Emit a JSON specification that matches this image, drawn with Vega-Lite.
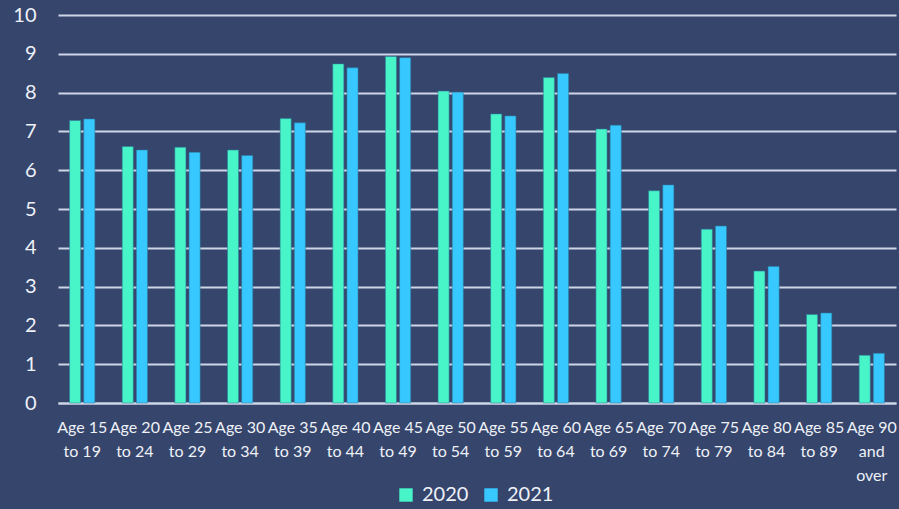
{
  "$schema": "https://vega.github.io/schema/vega-lite/v6.json",
  "width": 838,
  "height": 388,
  "autosize": "none",
  "padding": {"left": 58, "top": 15, "right": 3, "bottom": 106},
  "background": "#35456c",
  "config": {
    "view": {"stroke": null},
    "font": "Lato",
    "axis": {"labelColor": "#eef1f7", "labelFont": "Lato", "title": null}
  },
  "data": {
    "values": [
      {"age": "Age 15 to 19", "year": "2020", "value": 7.28},
      {"age": "Age 15 to 19", "year": "2021", "value": 7.32},
      {"age": "Age 20 to 24", "year": "2020", "value": 6.61},
      {"age": "Age 20 to 24", "year": "2021", "value": 6.52},
      {"age": "Age 25 to 29", "year": "2020", "value": 6.59},
      {"age": "Age 25 to 29", "year": "2021", "value": 6.46},
      {"age": "Age 30 to 34", "year": "2020", "value": 6.52},
      {"age": "Age 30 to 34", "year": "2021", "value": 6.38},
      {"age": "Age 35 to 39", "year": "2020", "value": 7.33},
      {"age": "Age 35 to 39", "year": "2021", "value": 7.22},
      {"age": "Age 40 to 44", "year": "2020", "value": 8.74},
      {"age": "Age 40 to 44", "year": "2021", "value": 8.64},
      {"age": "Age 45 to 49", "year": "2020", "value": 8.93},
      {"age": "Age 45 to 49", "year": "2021", "value": 8.9},
      {"age": "Age 50 to 54", "year": "2020", "value": 8.04},
      {"age": "Age 50 to 54", "year": "2021", "value": 8.01},
      {"age": "Age 55 to 59", "year": "2020", "value": 7.45},
      {"age": "Age 55 to 59", "year": "2021", "value": 7.4},
      {"age": "Age 60 to 64", "year": "2020", "value": 8.39},
      {"age": "Age 60 to 64", "year": "2021", "value": 8.49},
      {"age": "Age 65 to 69", "year": "2020", "value": 7.06},
      {"age": "Age 65 to 69", "year": "2021", "value": 7.16},
      {"age": "Age 70 to 74", "year": "2020", "value": 5.47},
      {"age": "Age 70 to 74", "year": "2021", "value": 5.62},
      {"age": "Age 75 to 79", "year": "2020", "value": 4.48},
      {"age": "Age 75 to 79", "year": "2021", "value": 4.56},
      {"age": "Age 80 to 84", "year": "2020", "value": 3.4},
      {"age": "Age 80 to 84", "year": "2021", "value": 3.52},
      {"age": "Age 85 to 89", "year": "2020", "value": 2.28},
      {"age": "Age 85 to 89", "year": "2021", "value": 2.32},
      {"age": "Age 90 and over", "year": "2020", "value": 1.23},
      {"age": "Age 90 and over", "year": "2021", "value": 1.28}
    ]
  },
  "mark": {"type": "bar", "stroke": "#2f7ea0", "strokeWidth": 0.8, "strokeOpacity": 0.7},
  "encoding": {
    "x": {
      "field": "age",
      "type": "nominal",
      "sort": null,
      "scale": {"paddingInner": 0.52, "paddingOuter": 0.22},
      "axis": {
        "labelAngle": 0,
        "labelFontSize": 16,
        "labelPadding": 16,
        "labelLineHeight": 24,
        "labelBaseline": "top",
        "ticks": false,
        "domain": true,
        "domainColor": "#cdd5e6",
        "domainWidth": 2,
        "labelLimit": 0,
        "labelExpr": "datum.label == 'Age 90 and over' ? ['Age 90', 'and', 'over'] : [substring(datum.label, 0, 6), substring(datum.label, 7)]"
      }
    },
    "xOffset": {"field": "year", "type": "nominal", "scale": {"paddingInner": 0.22}},
    "y": {
      "field": "value",
      "type": "quantitative",
      "scale": {"domain": [0, 10], "nice": false},
      "axis": {
        "values": [0, 1, 2, 3, 4, 5, 6, 7, 8, 9, 10],
        "domain": false,
        "ticks": false,
        "labelFontSize": 20,
        "labelPadding": 22,
        "grid": true,
        "gridColor": "#cdd5e6",
        "gridWidth": 2
      }
    },
    "color": {
      "field": "year",
      "type": "nominal",
      "scale": {"domain": ["2020", "2021"], "range": ["#48f5c8", "#36c8ff"]},
      "legend": {
        "title": null,
        "orient": "none",
        "direction": "horizontal",
        "legendX": 338,
        "legendY": 470,
        "symbolType": "square",
        "symbolSize": 180,
        "symbolStrokeWidth": 0,
        "labelFontSize": 20,
        "labelColor": "#eef1f7",
        "labelFont": "Lato",
        "columnPadding": 12,
        "labelOffset": 6
      }
    }
  }
}
